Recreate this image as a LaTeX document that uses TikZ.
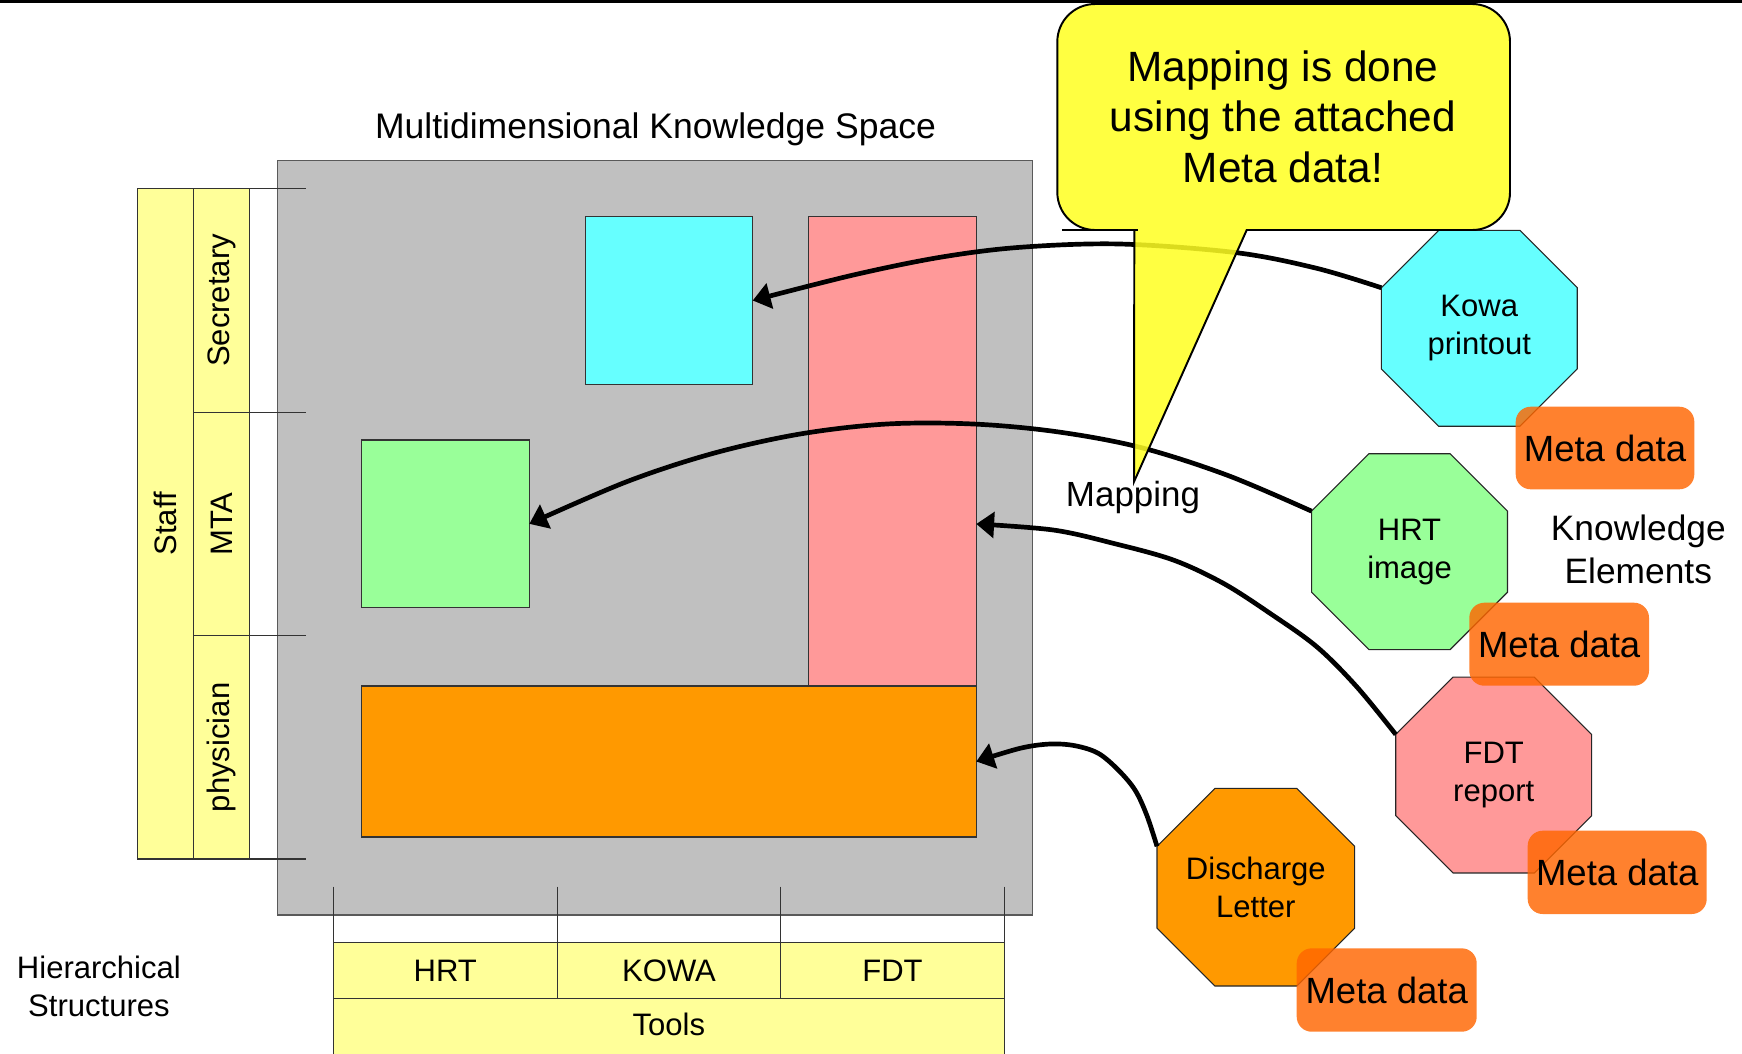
\documentclass[tikz,border=0pt]{standalone}
\usepackage{fontspec}
\setmainfont{Liberation Sans}
\usetikzlibrary{shapes.geometric,fit,calc,arrows.meta}
\definecolor{kgray}{HTML}{C0C0C0}
\definecolor{kcyan}{HTML}{66FFFF}
\definecolor{kgreen}{HTML}{99FF99}
\definecolor{kpink}{HTML}{FF9999}
\definecolor{korange}{HTML}{FF9900}
\definecolor{kyellow}{HTML}{FFFF99}
\definecolor{kmeta}{HTML}{FF6600}
\definecolor{kbubble}{HTML}{FFFF22}
\begin{document}
\begin{tikzpicture}[x=0.018cm,y=-0.018cm,
  box/.style={draw=black!80, line width=0.55pt, inner sep=0pt, outer sep=0pt},
  cell/.style={box, fill=kyellow},
  small/.style={font=\fontsize{15.9}{19.4}\selectfont},
  medium/.style={font=\fontsize{18.1}{21.8}\selectfont},
  octa/.style={regular polygon, regular polygon sides=8, minimum size=3.818cm,
    inner sep=0pt, outer sep=0pt, draw=black!85, line width=0.55pt, align=center,
    font=\fontsize{15.9}{19.5}\selectfont},
  meta/.style={rounded corners=0.27cm, fill=kmeta, fill opacity=0.82, text opacity=1,
    inner sep=0pt, outer sep=0pt, font=\fontsize{18.7}{22}\selectfont},
  link/.style={line width=2.4pt, -{Triangle[length=0.32cm,width=0.46cm]}},
  tick/.style={line width=0.55pt, draw=black!80}
]
\useasboundingbox (0,0) rectangle (1742,1053);
\fill[white] (0,0) rectangle (1742,1053);
\draw[line width=1.4pt] (0,1.3) -- (1742,1.3);

% knowledge space
\node[box, fill=kgray, draw=black!65, fit={(277.7,160.7) (1032.3,915)}] (space) {};
\node[box, fill=kcyan, fit={(585.3,216.7) (752.7,384.3)}] (cyan) {};
\node[box, fill=kpink, fit={(808.7,216.7) (976.3,686)}] (pink) {};
\node[box, fill=kgreen, fit={(361.7,440) (529.3,607.7)}] (green) {};
\node[box, fill=korange, fit={(361.7,686) (976.3,837)}] (orange) {};
\node[font=\fontsize{18.2}{22}\selectfont] (title) at (655.5,129) {Multidimensional Knowledge Space};

% staff hierarchy
\node[cell, fit={(137.7,188.7) (193.7,859)}] (staff) {};
\node[cell, fit={(193.7,188.7) (249.7,412.3)}] (secr) {};
\node[cell, fit={(193.7,412.3) (249.7,635.7)}] (mta) {};
\node[cell, fit={(193.7,635.7) (249.7,859)}] (phys) {};
\node[small, rotate=90] (stafft) at (staff.center) {Staff};
\node[small, rotate=90] (secrt) at (secr.center) {Secretary};
\node[small, rotate=90] (mtat) at (mta.center) {MTA};
\node[small, rotate=90] (physt) at (phys.center) {physician};
\foreach \yy in {188.7,412.3,635.7,859}
  \draw[tick] (249.7,\yy) -- (305.7,\yy);

% tools hierarchy
\foreach \xx in {333.3,557.3,780.7,1004.3}
  \draw[tick] (\xx,886.7) -- (\xx,942.7);
\node[cell, fit={(333.3,942.7) (557.3,998.7)}] (hrt) {};
\node[cell, fit={(557.3,942.7) (780.7,998.7)}] (kowac) {};
\node[cell, fit={(780.7,942.7) (1004.3,998.7)}] (fdt) {};
\node[small] (hrtt) at (hrt.center) {HRT};
\node[small] (kowat) at (kowac.center) {KOWA};
\node[small] (fdtt) at (fdt.center) {FDT};
\fill[kyellow] (333.3,998.7) rectangle (1004.3,1060);
\draw[tick] (333.3,1060) -- (333.3,998.7) -- (1004.3,998.7) -- (1004.3,1060);
\node[small] (tools) at (668.8,1024) {Tools};
\node[small, align=center] (hier) at (98.9,986.5) {Hierarchical\\Structures};

% knowledge elements
\node[octa, fill=kcyan] (kowa) at (1479.3,328.3) {Kowa\\printout};
\node[octa, fill=kgreen] (hrtimg) at (1409.5,551.7) {HRT\\image};
\node[octa, fill=kpink] (fdtrep) at (1493.7,775) {FDT\\report};
\node[octa, fill=korange] (disch) at (1255.8,887.2) {Discharge\\Letter};
\node[medium, align=center] (ke) at (1638.3,549.2) {Knowledge\\Elements};

% mapping links
\coordinate (fdtin) at ($(pink.east)+(0,72.6)$);
\draw[link] plot[smooth, tension=0.55] coordinates {(kowa.corner 3) (1316.7,268.3) (1236.7,252.7) (1120,244) (1020,247.3) (940,257.3) (853.3,275) (cyan.east)};
\draw[link] plot[smooth, tension=0.55] coordinates {(hrtimg.corner 3) (1226.7,475) (1140,447.3) (1056.7,431.7) (973.3,424) (886.7,424) (800,434) (713.3,453.3) (626.7,481.7) (green.east)};
\draw[link] plot[smooth, tension=0.55] coordinates {(fdtrep.corner 3) (1356.7,686.7) (1316.7,646.7) (1270,613.3) (1223.3,583.3) (1173.3,560) (1113.3,543.3) (1053.3,530) (fdtin)};
\draw[link] plot[smooth, tension=0.55] coordinates {(disch.corner 3) (1146.7,815) (1135,790) (1118.3,770) (1098.3,753.3) (1075,745.7) (1050,744) (1020,748.3) (orange.east)};
\node[font=\fontsize{17.9}{21}\selectfont] (mapping) at (1133,497.5) {Mapping};

% callout
\draw[line width=1pt, fill=kbubble, fill opacity=0.86]
  (1134.3,230) -- (1134,481.7) -- (1246.7,230) -- (1300,230)
  [rounded corners=0.68cm] -- (1510,230) -- (1510,4) -- (1057.3,4) -- (1057.3,230) -- (1100,230)
  [sharp corners] -- cycle;
\node[font=\fontsize{21.7}{25.9}\selectfont, align=center, inner sep=0pt] (bubtxt) at (1283,116.7)
  {Mapping is done\\using the attached\\Meta data!};

% meta data
\node[meta, fit={(1515.7,406.7) (1694.3,489.3)}] (m1) {};
\node[meta, fit={(1469.3,602.7) (1649,685.7)}] (m2) {};
\node[meta, fit={(1527.7,830.7) (1706.7,914)}] (m3) {};
\node[meta, fit={(1296.7,948.3) (1476.7,1031.7)}] (m4) {};
\foreach \m in {m1,m2,m3,m4}
  \node[font=\fontsize{18.7}{22}\selectfont] (\m t) at (\m.center) {Meta data};
\end{tikzpicture}
\end{document}
